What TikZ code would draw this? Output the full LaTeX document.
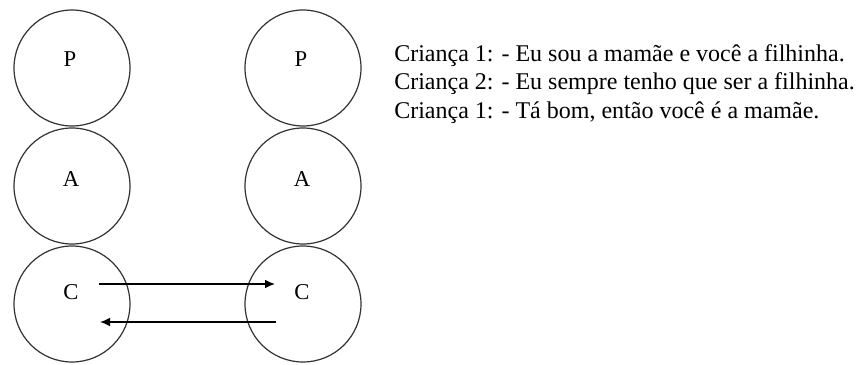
\documentclass[tikz,border=0pt]{standalone}
\usepackage{fontspec}
\setmainfont{Liberation Serif}
\usetikzlibrary{arrows.meta}

\begin{document}
\begin{tikzpicture}[x=0.75pt,y=-0.75pt,
	ring/.style={draw=black!80,line width=0.9pt,circle,minimum size=87pt,inner sep=0pt},
	letra/.style={inner sep=0pt,font=\fontsize{17}{20}\selectfont},
	fala/.style={anchor=base west,inner sep=0pt,font=\fontsize{18}{21}\selectfont},
	seta/.style={-{Latex[length=7.5pt,width=6.5pt]},line width=0.9pt}]
	\useasboundingbox (0,0) rectangle (860,364);
	% os dois esquemas P-A-C
	\foreach \x/\s in {72/L,303/R} {
		\node[ring] (p\s) at (\x,68) {};
		\node[ring] (a\s) at (\x,186) {};
		\node[ring] (c\s) at (\x,304) {};
		\node[letra] (tp\s) at (\x-2,59) {P};
		\node[letra] (ta\s) at (\x-1,179) {A};
		\node[letra] (tc\s) at (\x-1,292) {C};
	}
	% transacoes C -> C
	\coordinate (ida0) at (99,284);
	\coordinate (ida1) at (275,284);
	\coordinate (volta0) at (276,322);
	\coordinate (volta1) at (100,322);
	\draw[seta] (ida0) -- (ida1);
	\draw[seta] (volta0) -- (volta1);
	% dialogo
	\node[fala] (f1) at (394,61) {Criança 1: - Eu sou a mamãe e você a filhinha.};
	\node[fala] (f2) at (394,89.5) {Criança 2: - Eu sempre tenho que ser a filhinha.};
	\node[fala] (f3) at (394,118) {Criança 1: - Tá bom, então você é a mamãe.};
\end{tikzpicture}
\end{document}
